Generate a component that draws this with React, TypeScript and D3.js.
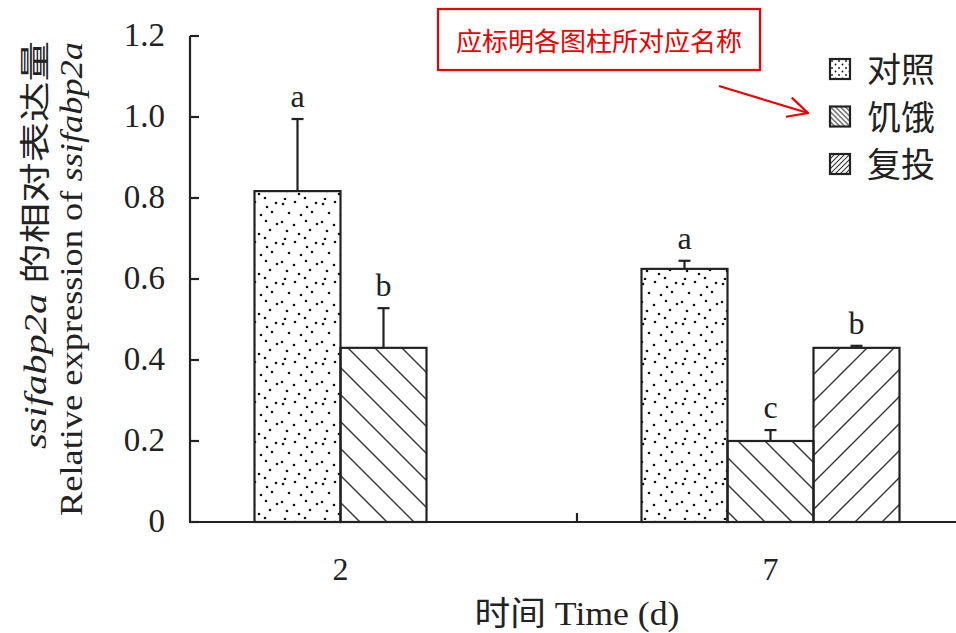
import React from "react";
import * as d3 from "d3";

const groups = ["2", "7"];
const series = ["对照", "饥饿", "复投"];
const seriesKeys = ["control", "starve", "refeed"];
// values per group (null = no bar)
const means: (number | null)[][] = [
  [0.817, 0.43, null],
  [0.625, 0.2, 0.43],
];
const errors: (number | null)[][] = [
  [0.178, 0.098, null],
  [0.02, 0.027, 0.005],
];
const letters: (string | null)[][] = [
  ["a", "b", null],
  ["a", "c", "b"],
];
const yTicks = [0, 0.2, 0.4, 0.6, 0.8, 1.0, 1.2];
const noteText = "应标明各图柱所对应名称";

const W = 956, H = 633;
const serif = "'Liberation Serif', 'Times New Roman', 'Noto Sans CJK SC', serif";

const dotPts: [number, number][] = [
  [3, 4], [15, 2], [27, 7], [36, 3], [9, 13], [21, 15], [32, 12], [2, 22],
  [14, 25], [26, 21], [37, 24], [7, 31], [19, 34], [30, 30], [5, 39], [25, 38],
];

export default function App() {
  const y = d3.scaleLinear().domain([0, 1.2]).range([522, 36]);
  const x0 = d3.scaleBand().domain(groups).range([190, 964]).padding(0);
  const x1 = d3.scaleBand().domain(seriesKeys).range([0, x0.bandwidth()]).paddingInner(0).paddingOuter(0.75);
  const fills = ["url(#dots)", "url(#back)", "url(#fwd)"];
  const legFills = ["url(#dotsL)", "url(#backL)", "url(#fwdL)"];

  return (
    <svg width={W} height={H} style={{ position: "absolute", left: 0, top: 0, background: "#fff" }}>
      <defs>
        <pattern id="dots" width={40} height={40} patternUnits="userSpaceOnUse">
          {dotPts.map((p, i) => (
            <circle key={i} cx={p[0]} cy={p[1]} r={1.3} fill="#111" />
          ))}
        </pattern>
        <pattern id="back" width={27} height={27} patternUnits="userSpaceOnUse">
          <path d="M-2,-2 L29,29 M-29,-2 L2,29 M25,-2 L56,29" stroke="#333" strokeWidth={1.4} />
        </pattern>
        <pattern id="fwd" width={27} height={27} patternUnits="userSpaceOnUse">
          <path d="M-2,29 L29,-2 M-29,29 L2,-2 M25,29 L56,-2" stroke="#333" strokeWidth={1.4} />
        </pattern>
        <pattern id="dotsL" width={7} height={7} patternUnits="userSpaceOnUse">
          <circle cx={2} cy={2} r={0.9} fill="#111" />
          <circle cx={5.5} cy={5.5} r={0.9} fill="#111" />
        </pattern>
        <pattern id="backL" width={5} height={5} patternUnits="userSpaceOnUse">
          <path d="M-1,-1 L6,6 M-6,-1 L1,6 M4,-1 L11,6" stroke="#333" strokeWidth={1.1} />
        </pattern>
        <pattern id="fwdL" width={5} height={5} patternUnits="userSpaceOnUse">
          <path d="M-1,6 L6,-1 M-6,6 L1,-1 M4,6 L11,-1" stroke="#333" strokeWidth={1.1} />
        </pattern>
        <marker id="arr" viewBox="0 0 22 22" refX={21} refY={11} markerWidth={22} markerHeight={22} orient="auto" markerUnits="userSpaceOnUse">
          <path d="M1,1 L21,11 L1,21" fill="none" stroke="#e00" strokeWidth={2.2} />
        </marker>
      </defs>

      {/* bars */}
      {groups.map((g, gi) => {
        const present = seriesKeys.filter((_, si) => means[gi][si] !== null);
        const gx = x0(g)!;
        return (
          <g key={g}>
            {seriesKeys.map((k, si) => {
              const v = means[gi][si];
              if (v === null) return null;
              const bx = gx + x1(k)!;
              const bw = x1.bandwidth();
              const e = errors[gi][si] ?? 0;
              const cx = bx + bw / 2;
              const lt = letters[gi][si];
              return (
                <g key={k}>
                  <rect x={bx} y={y(v)} width={bw} height={y(0) - y(v)} fill={fills[si]} stroke="#222" strokeWidth={2.2} />
                  <line x1={cx} x2={cx} y1={y(v)} y2={y(v + e)} stroke="#222" strokeWidth={2.2} />
                  <line x1={cx - 6} x2={cx + 6} y1={y(v + e)} y2={y(v + e)} stroke="#222" strokeWidth={2.2} />
                  {lt && (
                    <text x={cx} y={y(v + e) - 12} textAnchor="middle" fontFamily={serif} fontSize={32} fill="#222">
                      {lt}
                    </text>
                  )}
                </g>
              );
            })}
            <text
              x={gx + (x1(present[0])! + x1(present[present.length - 1])! + x1.bandwidth()) / 2}
              y={580}
              textAnchor="middle"
              fontFamily={serif}
              fontSize={32}
              fill="#222"
            >
              {g}
            </text>
          </g>
        );
      })}

      {/* axes */}
      <line x1={190} x2={190} y1={y(1.2)} y2={y(0)} stroke="#222" strokeWidth={2.2} />
      <line x1={189} x2={956} y1={y(0)} y2={y(0)} stroke="#222" strokeWidth={2.2} />
      {yTicks.map((t) => (
        <g key={t}>
          <line x1={190} x2={199} y1={y(t)} y2={y(t)} stroke="#222" strokeWidth={2.2} />
          <text x={165} y={y(t) + 10} textAnchor="end" fontFamily={serif} fontSize={33} fill="#222">
            {t === 0 ? "0" : d3.format(".1f")(t)}
          </text>
        </g>
      ))}
      <line x1={x0("7")!} x2={x0("7")!} y1={y(0)} y2={y(0) - 9} stroke="#222" strokeWidth={2.2} />

      {/* axis titles */}
      <text transform="translate(46,245) rotate(-90)" textAnchor="middle" fontFamily={serif} fontSize={31} fill="#222" textLength={408} lengthAdjust="spacingAndGlyphs">
        <tspan fontStyle="italic">ssifabp2a</tspan>
        <tspan> 的相对表达量</tspan>
      </text>
      <text transform="translate(82,279) rotate(-90)" textAnchor="middle" fontFamily={serif} fontSize={31} fill="#222" textLength={474} lengthAdjust="spacingAndGlyphs">
        <tspan>Relative expression of </tspan>
        <tspan fontStyle="italic">ssifabp2a</tspan>
      </text>
      <text x={577} y={625} textAnchor="middle" fontFamily={serif} fontSize={33} fill="#222" textLength={205} lengthAdjust="spacingAndGlyphs">
        时间 Time (d)
      </text>

      {/* legend */}
      {series.map((s, i) => (
        <g key={s} transform={`translate(830,${59 + i * 47.5})`}>
          <rect x={0} y={0} width={20} height={20} fill={legFills[i]} stroke="#222" strokeWidth={2.2} />
          <text x={37} y={23} fontFamily={serif} fontSize={34} fill="#222">
            {s}
          </text>
        </g>
      ))}

      {/* annotation */}
      <rect x={438} y={9} width={322} height={61} fill="none" stroke="#e00" strokeWidth={2.2} />
      <text x={599} y={51} textAnchor="middle" fontFamily="'Noto Sans CJK SC', sans-serif" fontSize={26} fill="#e00">
        {noteText}
      </text>
      <line x1={719} y1={86} x2={808} y2={113} stroke="#e00" strokeWidth={2.2} markerEnd="url(#arr)" />
    </svg>
  );
}
